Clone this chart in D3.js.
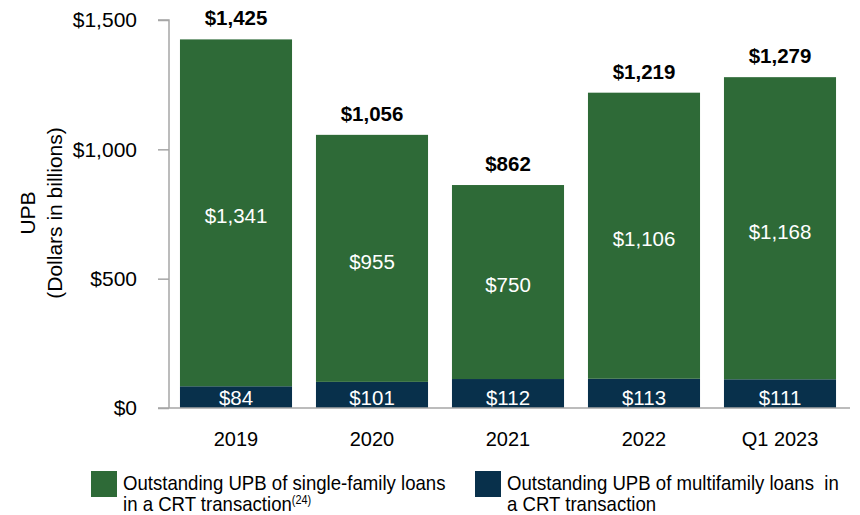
<!DOCTYPE html>
<html><head><meta charset="utf-8">
<script src="https://cdn.jsdelivr.net/npm/d3@7"></script>
<style>body{margin:0;background:#fff}svg{display:block}text{font-family:"Liberation Sans",Arial,sans-serif}</style>
</head><body>
<svg id="c" width="860" height="515"></svg>
<script>
const categories = ["2019","2020","2021","2022","Q1 2023"];
const singleFamily = [1341,955,750,1106,1168];
const multifamily = [84,101,112,113,111];
const totals = [1425,1056,862,1219,1279];
const yTicks = [0,500,1000,1500];
const yTickLabels = ["$0","$500","$1,000","$1,500"];
const legendLabels = [
  ["Outstanding UPB of single-family loans","in a CRT transaction","(24)"],
  ["Outstanding UPB of multifamily loans\u00a0 in","a CRT transaction",""]
];
const colors = {sf:"#2e6a37", mf:"#08304b"};

const svg = d3.select("#c");
const x = d3.scaleBand().domain(categories).range([168,848]).paddingInner(0.176).paddingOuter(0.088);
const y = d3.scaleLinear().domain([0,1500]).range([408,20]);
const fmt = v => "$" + d3.format(",")(v);
const FS = 20.5;

// bars
const g = svg.append("g");
categories.forEach((c,i)=>{
  g.append("rect").attr("x",x(c)).attr("width",x.bandwidth())
    .attr("y",y(multifamily[i])).attr("height",y(0)-y(multifamily[i])).attr("fill",colors.mf);
  g.append("rect").attr("x",x(c)).attr("width",x.bandwidth())
    .attr("y",y(multifamily[i]+singleFamily[i])).attr("height",y(multifamily[i])-y(multifamily[i]+singleFamily[i])).attr("fill",colors.sf);
  const cx = x(c)+x.bandwidth()/2;
  g.append("text").attr("x",cx).attr("y",(y(multifamily[i])+y(multifamily[i]+singleFamily[i]))/2+3).attr("dy","0.36em")
    .attr("text-anchor","middle").attr("fill","#fff").attr("font-size",FS).text(fmt(singleFamily[i]));
  g.append("text").attr("x",cx).attr("y",y(0)-3)
    .attr("text-anchor","middle").attr("fill","#fff").attr("font-size",FS).text(fmt(multifamily[i]));
  g.append("text").attr("x",cx).attr("y",y(totals[i])-14)
    .attr("text-anchor","middle").attr("fill","#000").attr("font-size",FS).attr("font-weight","bold").text(fmt(totals[i]));
});

// y axis
const ya = svg.append("g").attr("transform","translate(169,0)")
  .call(d3.axisLeft(y).tickValues(yTicks).tickFormat((d,i)=>yTickLabels[i]).tickSize(11).tickPadding(21));
ya.select(".domain").attr("stroke","#a6a6a6").attr("stroke-width",1.5).attr("d","M-11,"+y(1500)+"H0V"+y(0));
ya.selectAll(".tick line").attr("stroke","#a6a6a6").attr("stroke-width",1.5);
ya.selectAll(".tick text").attr("font-size",21).attr("fill","#000").attr("font-family","Liberation Sans, Arial, sans-serif");

// x axis
const xa = svg.append("g").attr("transform","translate(0,408)").call(d3.axisBottom(x).tickSize(0).tickPadding(24));
xa.select(".domain").attr("stroke","#a6a6a6").attr("stroke-width",1.5).attr("d","M158,0H850");
xa.selectAll(".tick text").attr("font-size",20).attr("fill","#000").attr("font-family","Liberation Sans, Arial, sans-serif");

// y title
const yt = svg.append("text").attr("transform","translate(0,213) rotate(-90)").attr("text-anchor","middle").attr("font-size",21);
yt.append("tspan").attr("x",0).attr("y",35).text("UPB");
yt.append("tspan").attr("x",0).attr("y",62).text("(Dollars in billions)");

// legend
const legendColors = [colors.sf, colors.mf];
const legendX = [91, 475];
const probe = svg.append("text").attr("font-size",20.5).text(legendLabels[1][0]);
const sx = 332 / probe.node().getComputedTextLength();
probe.remove();
legendLabels.forEach((lab,k)=>{
  const lg = svg.append("g");
  lg.append("rect").attr("x",legendX[k]).attr("y",471).attr("width",26).attr("height",26).attr("fill",legendColors[k]);
  const tg = lg.append("g").attr("transform",`translate(${legendX[k]+32},0) scale(${sx},1)`);
  const t = tg.append("text").attr("font-size",20.5).attr("fill","#000");
  t.append("tspan").attr("x",0).attr("y",490).text(lab[0]);
  t.append("tspan").attr("x",0).attr("y",511).text(lab[1]);
  if (lab[2]) t.append("tspan").attr("font-size",12).attr("dy","-7").text(lab[2]);
});
</script>
</body></html>
